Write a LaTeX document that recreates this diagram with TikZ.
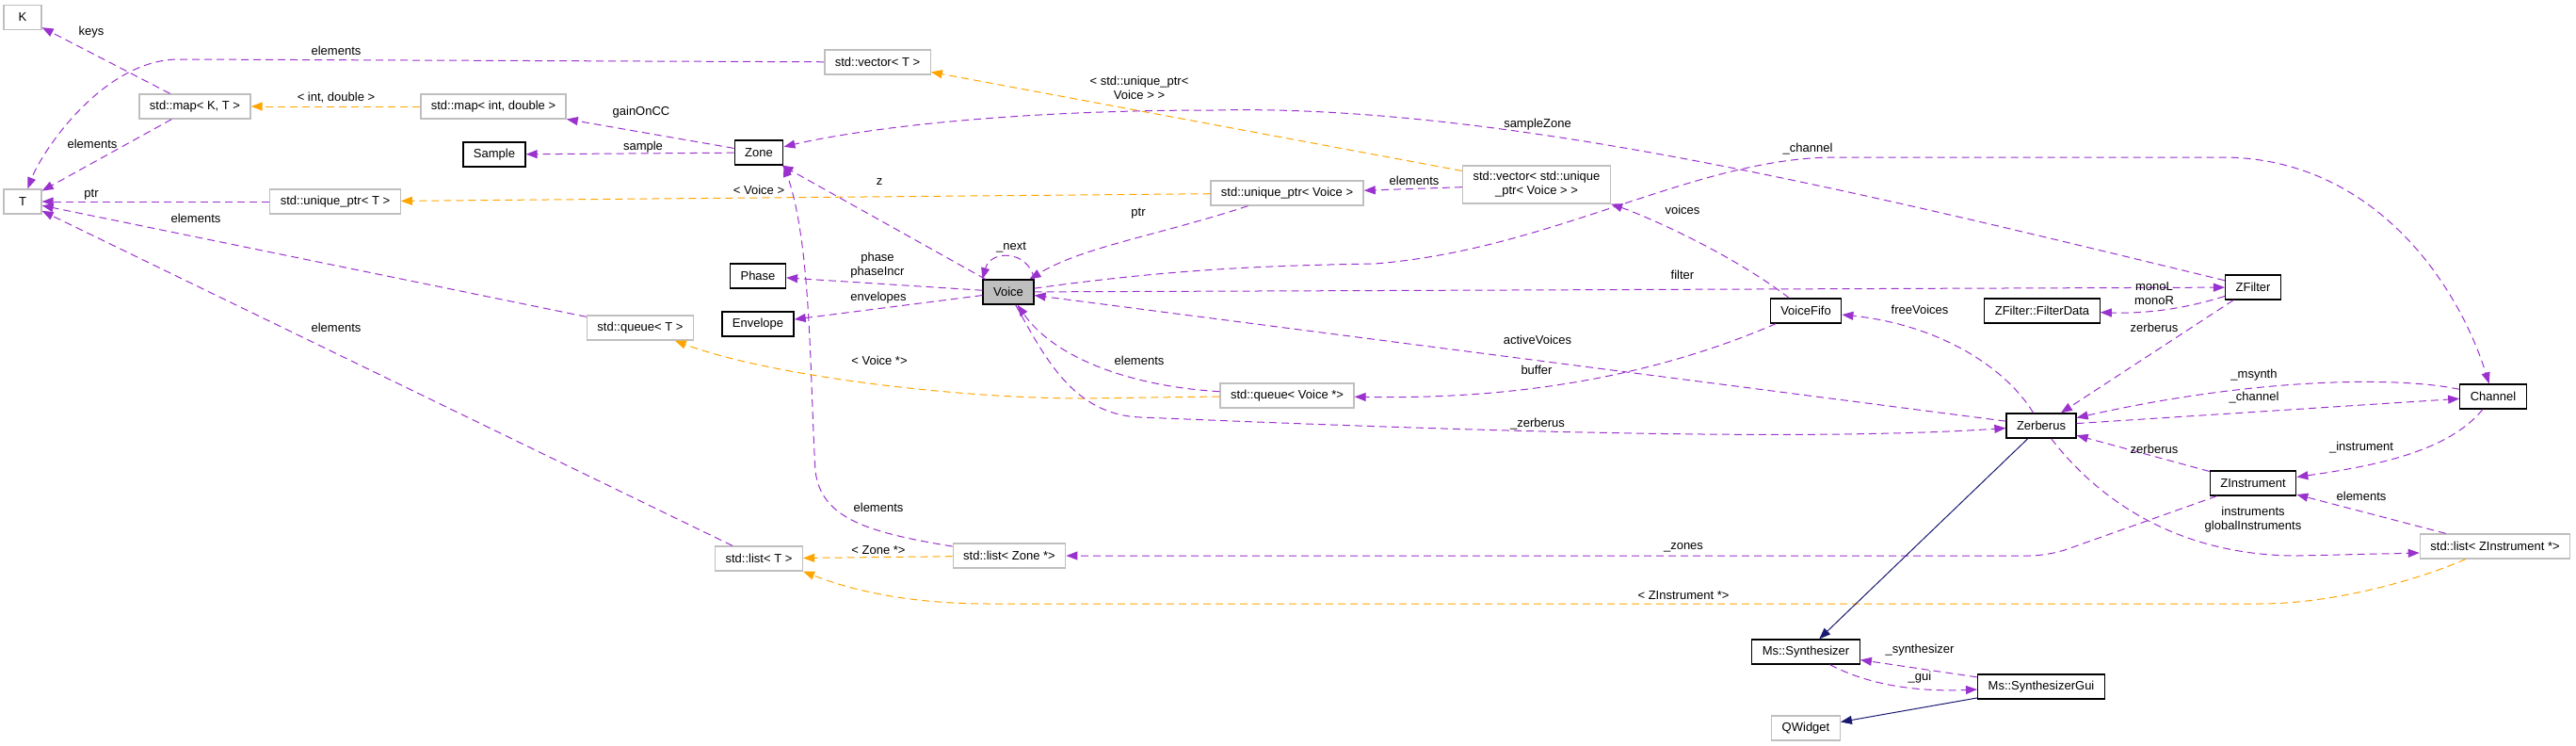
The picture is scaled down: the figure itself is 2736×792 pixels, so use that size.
\documentclass[tikz,border=0pt]{standalone}
\usepackage{fontspec}
\setmainfont{Liberation Sans}
\usetikzlibrary{arrows.meta}
\definecolor{orchid}{HTML}{9A32CD}
\definecolor{tmplorange}{HTML}{FFA500}
\definecolor{midnight}{HTML}{191970}
\definecolor{boxgray}{HTML}{BFBFBF}

\begin{document}
\begin{tikzpicture}[x=1pt, y=-1pt, >={Triangle[length=12pt,width=9pt]},
  font=\fontsize{13pt}{15pt}\selectfont,
  cls/.style={draw=black, line width=1.3pt, fill=white, align=center, minimum height=26pt, minimum width=40pt, inner xsep=11pt, inner ysep=2pt},
  ext/.style={cls, draw=boxgray},
  member/.style={->, draw=orchid, line width=1pt, dash pattern=on 8pt off 5pt},
  tmpl/.style={member, draw=tmplorange},
  inh/.style={->, draw=midnight, line width=1pt},
  lbl/.style={inner sep=0pt, align=center}]

		\useasboundingbox (0,0) rectangle (2736,792);

		\node[ext] (K) at (24,18.5) {K};
		\node[ext] (T) at (24,214) {T};
		\node[ext] (mapKT) at (207,113) {std::map< K, T >};
		\node[ext] (mapID) at (524,113) {std::map< int, double >};
		\node[cls] (sample) at (525,164) {Sample};
		\node[ext] (uptrT) at (356,214) {std::unique\_ptr< T >};
		\node[ext] (vecT) at (932,66) {std::vector< T >};
		\node[cls] (zone) at (806,162) {Zone};
		\node[cls] (phase) at (805,293) {Phase};
		\node[cls] (envelope) at (805,344) {Envelope};
		\node[ext] (queueT) at (680,348) {std::queue< T >};
		\node[ext] (listT) at (806,593) {std::list< T >};
		\node[ext] (listZone) at (1072,590) {std::list< Zone *>};
		\node[cls, fill=boxgray] (voice) at (1071,310) {Voice};
		\node[ext] (uptrV) at (1367,205) {std::unique\_ptr< Voice >};
		\node[ext] (queueV) at (1367,420) {std::queue< Voice *>};
		\node[ext, minimum height=40pt] (vecUV) at (1632,196) {std::vector< std::unique\\\_ptr< Voice > >};
		\node[cls] (fifo) at (1918,330) {VoiceFifo};
		\node[cls] (filterData) at (2169,330) {ZFilter::FilterData};
		\node[cls] (zfilter) at (2393,305) {ZFilter};
		\node[cls] (zerberus) at (2168,452) {Zerberus};
		\node[cls] (channel) at (2648,421) {Channel};
		\node[cls] (zinstr) at (2393,513) {ZInstrument};
		\node[ext] (listZI) at (2650,580) {std::list< ZInstrument *>};
		\node[cls] (synth) at (1918,692) {Ms::Synthesizer};
		\node[cls] (synthGui) at (2168,729) {Ms::SynthesizerGui};
		\node[ext] (qwidget) at (1918,773) {QWidget};

		\path (mapKT) edge[member] (K) node[lbl] at (97,34) {keys};
		\path (mapKT) edge[member] (T) node[lbl] at (98,153) {elements};
		\draw[member] (vecT) -- (190,63) .. controls (110,63) and (45,160) .. (T) node[lbl] at (357,54) {elements};
		\path (uptrT) edge[member] (T) node[lbl] at (97,207) {ptr};
		\path (queueT) edge[member] (T) node[lbl] at (208,232) {elements};
		\path (listT) edge[member] (T) node[lbl] at (357,348) {elements};
		\path (mapID) edge[tmpl] (mapKT) node[lbl] at (357,104) {< int, double >};
		\path (zone) edge[member] (mapID) node[lbl] at (681,119) {gainOnCC};
		\path (zone) edge[member] (sample) node[lbl] at (683,156) {sample};
		\path (uptrV) edge[tmpl] (uptrT) node[lbl] at (806,202) {< Voice >};
		\path (vecUV) edge[tmpl] (vecT) node[lbl] at (1210,93) {< std::unique\_ptr<\\Voice > >};
		\draw[member] (zfilter) .. controls (2000,210) and (1600,110) .. (1290,117) .. controls (1050,117) and (900,140) .. (zone) node[lbl] at (1633,132) {sampleZone};
		\path (voice) edge[member] (zone) node[lbl] at (934,193) {z};
		\draw[member] (listZone) .. controls (920,565) and (872,550) .. (866,500) .. controls (860,400) and (862,260) .. (zone.south east) node[lbl] at (933,539) {elements};
		\path (vecUV) edge[member] (uptrV) node[lbl] at (1502,192) {elements};
		\draw[member] (uptrV) .. controls (1230,250) and (1150,262) .. (voice) node[lbl] at (1209,227) {ptr};
		\draw[member] (voice.north east) .. controls (1092,265) and (1052,265) .. (voice.north west) node[lbl] at (1074,263) {\_next};
		\path (voice) edge[member] (phase) node[lbl] at (932,282) {phase\\phaseIncr};
		\path (voice) edge[member] (envelope) node[lbl] at (933,316) {envelopes};
		\draw[tmpl] (queueV) -- (1150,423) .. controls (1020,423) and (820,400) .. (queueT) node[lbl] at (934,383) {< Voice *>};
		\draw[member] (queueV) .. controls (1200,410) and (1120,380) .. (voice) node[lbl] at (1210,383) {elements};
		\path (zerberus) edge[member] (voice) node[lbl] at (1633,361) {activeVoices};
		\draw[member] (fifo) .. controls (1790,385) and (1650,425) .. (queueV) node[lbl] at (1632,393) {buffer};
		\draw[member] (voice) .. controls (1110,380) and (1140,440) .. (1211,443) .. controls (1500,455) and (1900,470) .. (zerberus) node[lbl] at (1633,450) {\_zerberus};
		\draw[member] (voice) .. controls (1250,285) and (1350,282) .. (1460,280) .. controls (1650,265) and (1800,167) .. (1950,167) -- (2360,167) .. controls (2520,167) and (2610,300) .. (channel) node[lbl] at (1920,158) {\_channel};
		\path (voice) edge[member] (zfilter) node[lbl] at (1787,292) {filter};
		\draw[member] (fifo) .. controls (1840,270) and (1750,230) .. (vecUV.south east) node[lbl] at (1787,223) {voices};
		\draw[member] (zfilter) .. controls (2320,328) and (2280,333) .. (filterData) node[lbl] at (2288,312) {monoL\\monoR};
		\path (zfilter) edge[member] (zerberus) node[lbl] at (2288,348) {zerberus};
		\draw[member] (zerberus) .. controls (2130,390) and (2060,345) .. (fifo) node[lbl] at (2039,329) {freeVoices};
		\draw[member] (channel) .. controls (2550,400) and (2400,400) .. (zerberus) node[lbl] at (2394,398) {\_msynth};
		\path (zerberus) edge[member] (channel) node[lbl] at (2394,422) {\_channel};
		\draw[member] (channel) .. controls (2600,480) and (2520,495) .. (zinstr) node[lbl] at (2508,475) {\_instrument};
		\path (zinstr) edge[member] (zerberus) node[lbl] at (2288,477) {zerberus};
		\path (listZI) edge[member] (zinstr) node[lbl] at (2508,527) {elements};
		\draw[member] (zerberus) .. controls (2240,545) and (2330,590) .. (2440,590) -- ([yshift=-7pt]listZI.west) node[lbl] at (2393,552) {instruments\\globalInstruments};
		\draw[member, rounded corners=20pt] (zinstr) -- (2176,590) -- (listZone) node[lbl] at (1788,581) {\_zones};
		\draw[tmpl] (listZI) .. controls (2570,615) and (2480,641) .. (2400,641) -- (1050,641) .. controls (960,641) and (900,625) .. (listT.south east) node[lbl] at (1788,632) {< ZInstrument *>};
		\path (listZone) edge[tmpl] (listT) node[lbl] at (933,584) {< Zone *>};
		\path (zerberus) edge[inh] (synth);
		\path (synthGui) edge[inh] (qwidget);
		\path (synthGui) edge[member] (synth) node[lbl] at (2039,690) {\_synthesizer};
		\draw[member] (synth) .. controls (1980,725) and (2030,735) .. (synthGui) node[lbl] at (2039,719) {\_gui};

\end{tikzpicture}
\end{document}
